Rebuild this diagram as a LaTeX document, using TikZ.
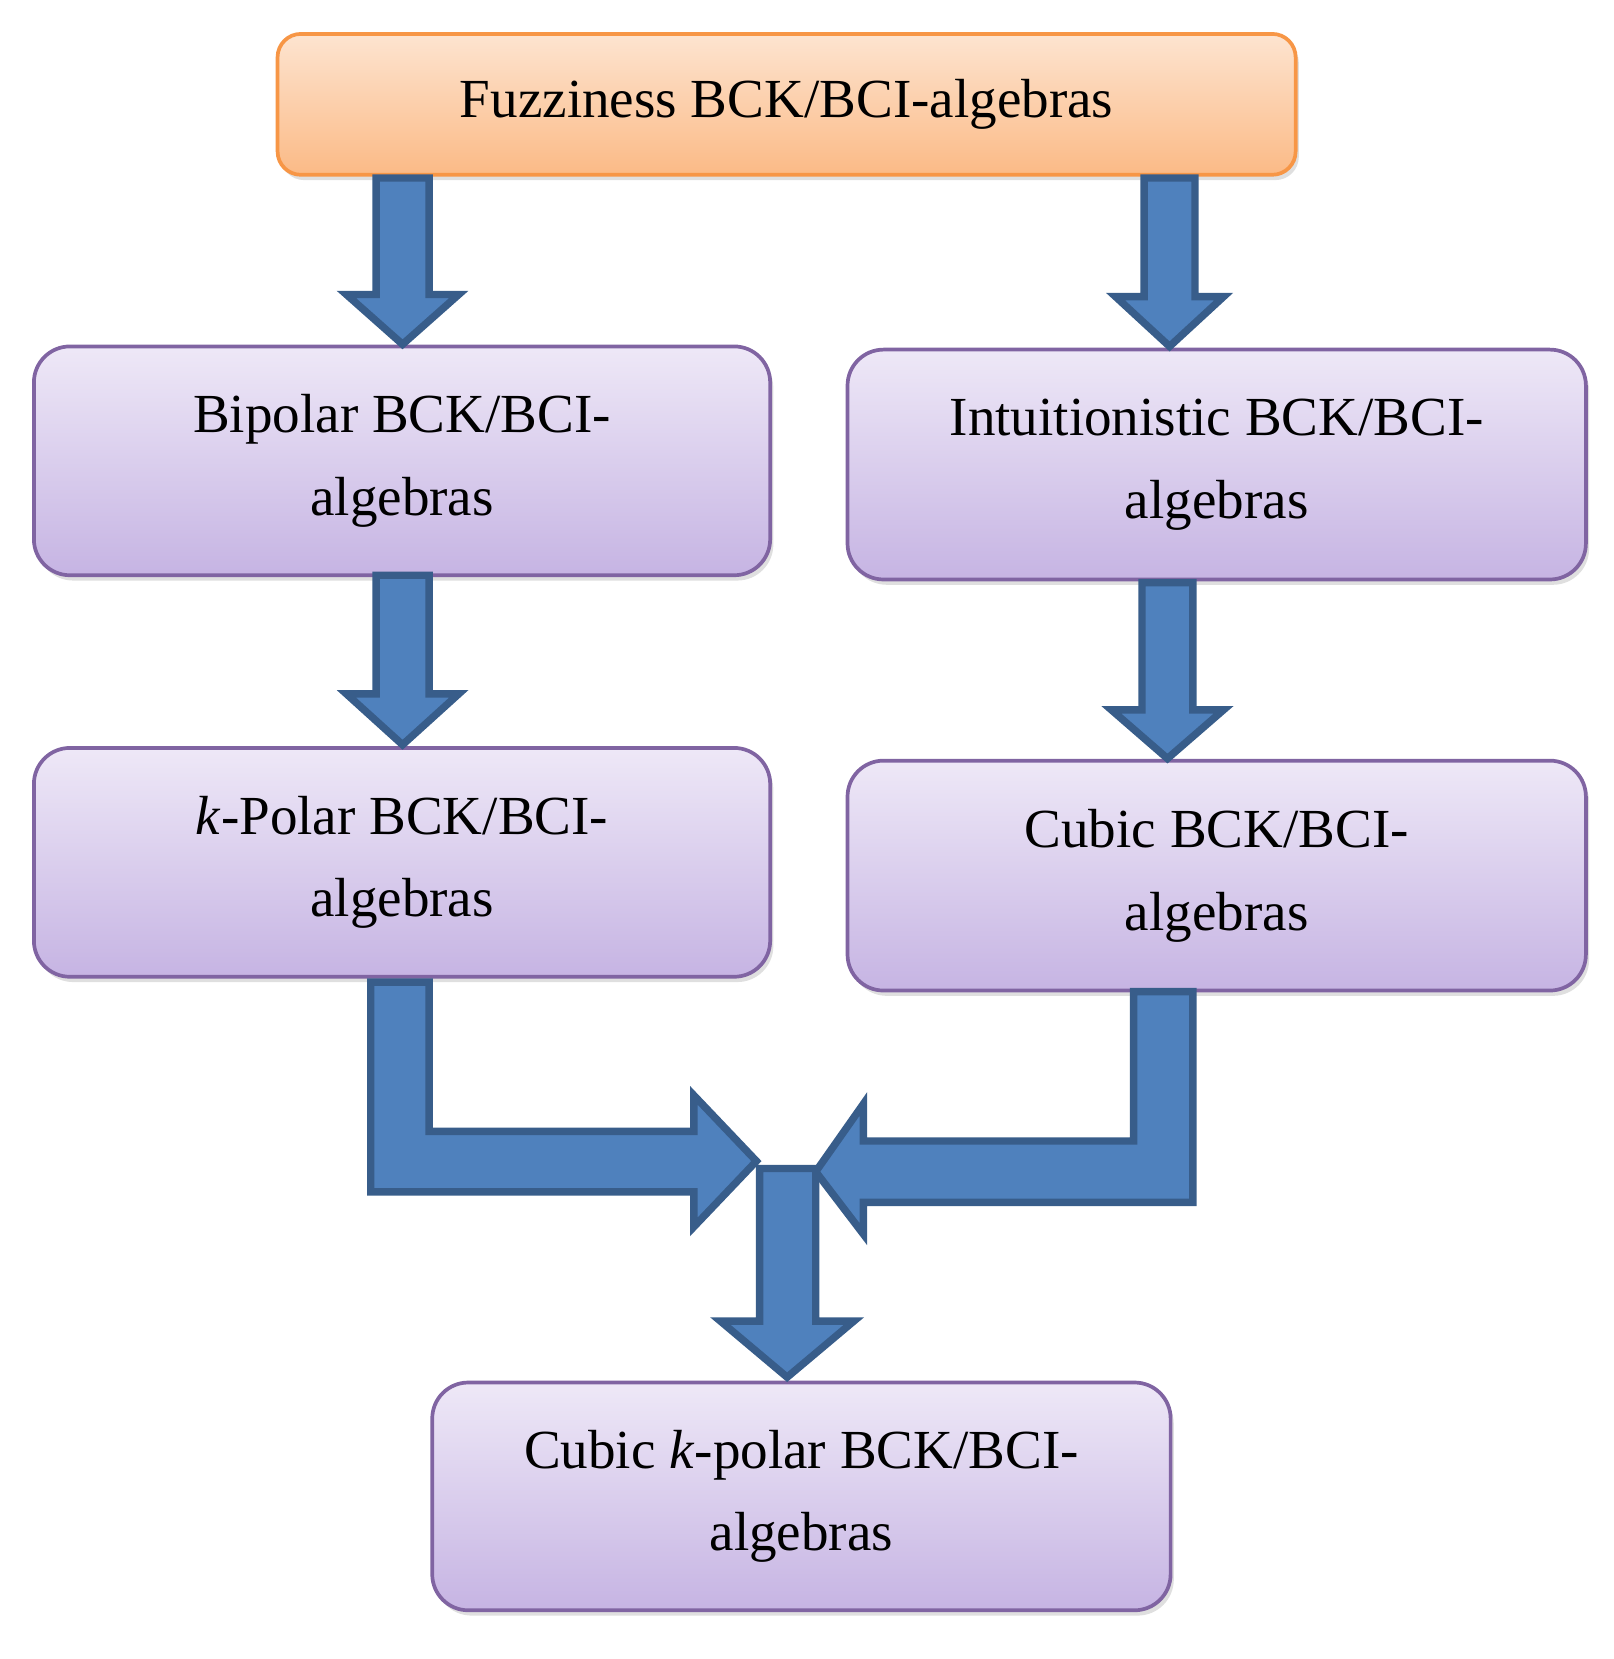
\documentclass[tikz,border=0pt]{standalone}
\usepackage{fontspec}
\setmainfont{Liberation Serif}
\usetikzlibrary{shadows}
\definecolor{pb}{HTML}{8064A2}
\definecolor{pt}{HTML}{EEE8F7}
\definecolor{pbot}{HTML}{C6B4E3}
\definecolor{ob}{HTML}{F79646}
\definecolor{ot}{HTML}{FDE4D0}
\definecolor{obot}{HTML}{FBBA86}
\definecolor{af}{HTML}{4F81BD}
\definecolor{ab}{HTML}{385D8A}
\begin{document}
\begin{tikzpicture}[x=1pt,y=-1pt,
 box/.style={draw=pb,line width=3.5pt,rounded corners=34pt,top color=pt,bottom color=pbot,
   drop shadow={opacity=0.25,shadow xshift=3pt,shadow yshift=-5pt},
   font=\fontsize{52}{78}\selectfont,align=center,inner sep=0pt},
 obox/.style={box,draw=ob,top color=ot,bottom color=obot,rounded corners=22pt},
 arr/.style={fill=af,draw=ab,line width=7pt,line join=miter}]
\useasboundingbox (0,0) rectangle (1523,1566);
\node[obox,minimum width=961pt,minimum height=133pt] (f) at (742.5,98.5) {Fuzziness BCK/BCI-algebras};
\node[box,minimum width=695pt,minimum height=216pt] (b) at (379.5,435) {Bipolar BCK/BCI-\\algebras};
\node[box,minimum width=697pt,minimum height=217pt] (i) at (1148.5,438.5) {Intuitionistic BCK/BCI-\\algebras};
\node[box,minimum width=695pt,minimum height=216pt] (k) at (379.5,814) {\textit{k}-Polar BCK/BCI-\\algebras};
\node[box,minimum width=697pt,minimum height=217pt] (c) at (1148.5,826.5) {Cubic BCK/BCI-\\algebras};
\node[box,minimum width=697pt,minimum height=215pt] (ck) at (756.5,1412.5) {Cubic \textit{k}-polar BCK/BCI-\\algebras};
% straight arrows
\draw[arr] (355,168) -- (405,168) -- (405,278) -- (433,278) -- (380,325) -- (327,278) -- (355,278) -- cycle;
\draw[arr] (1080,168) -- (1128,168) -- (1128,280) -- (1155,280) -- (1104,327) -- (1053,280) -- (1080,280) -- cycle;
\draw[arr] (355,543) -- (405,543) -- (405,655) -- (433,655) -- (380,703) -- (327,655) -- (355,655) -- cycle;
\draw[arr] (1078,550) -- (1126,550) -- (1126,670) -- (1155,670) -- (1102,716) -- (1049,670) -- (1078,670) -- cycle;
% bent arrows
\draw[arr] (350,927) -- (405,927) -- (405,1068) -- (655,1068) -- (655,1034) -- (714,1096) -- (655,1158) -- (655,1125) -- (350,1125) -- cycle;
\draw[arr] (1070,936) -- (1126,936) -- (1126,1135) -- (815,1135) -- (815,1165) -- (770,1106) -- (815,1042) -- (815,1077) -- (1070,1077) -- cycle;
\draw[arr] (717,1103) -- (770,1103) -- (770,1247) -- (806,1247) -- (743,1300) -- (680,1247) -- (717,1247) -- cycle;
\end{tikzpicture}
\end{document}
